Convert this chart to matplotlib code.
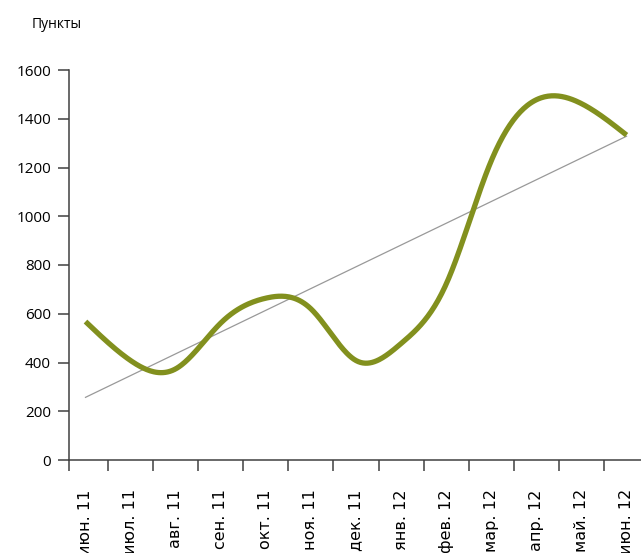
import numpy as np
import matplotlib
matplotlib.use("Agg")
import matplotlib.pyplot as plt

# monthly values
months = ["июн. 11", "июл. 11", "авг. 11", "сен. 11", "окт. 11", "ноя. 11", "дек. 11",
          "янв. 12", "фев. 12", "мар. 12", "апр. 12", "май. 12", "июн. 12"]
points = [568, 408, 374, 562, 664, 620, 408, 478, 722, 1228, 1478, 1462, 1333]
y_ticks = [0, 200, 400, 600, 800, 1000, 1200, 1400, 1600]


def smooth_line(x, y, n=40):
    """Natural cubic spline through the points."""
    x = np.asarray(x, float)
    y = np.asarray(y, float)
    m = len(x)
    h = np.diff(x)
    A = np.zeros((m, m))
    r = np.zeros(m)
    A[0, 0] = A[-1, -1] = 1
    for i in range(1, m - 1):
        A[i, i - 1] = h[i - 1]
        A[i, i] = 2 * (h[i - 1] + h[i])
        A[i, i + 1] = h[i]
        r[i] = 6 * ((y[i + 1] - y[i]) / h[i] - (y[i] - y[i - 1]) / h[i - 1])
    M = np.linalg.solve(A, r)
    xs, ys = [], []
    for i in range(m - 1):
        t = np.linspace(x[i], x[i + 1], n)
        a = (x[i + 1] - t) / h[i]
        b = (t - x[i]) / h[i]
        s = (a * y[i] + b * y[i + 1]
             + ((a ** 3 - a) * M[i] + (b ** 3 - b) * M[i + 1]) * h[i] ** 2 / 6)
        xs.append(t)
        ys.append(s)
    return np.concatenate(xs), np.concatenate(ys)


x = np.arange(len(points))
sx, sy = smooth_line(x, points)

# linear trend line
slope, intercept = np.polyfit(x, points, 1)
trend = slope * x + intercept

fig = plt.figure(figsize=(6.41, 5.53), dpi=100)
ax = fig.add_axes([69 / 641, 93 / 553, (641 - 69) / 641, 390 / 553])

ax.plot(x, trend, color="#999999", linewidth=0.9, zorder=2)
ax.plot(sx, sy, color="#82901e", linewidth=3.8, solid_capstyle="butt", zorder=3)

ax.set_xlim(-0.366, 12.32)
ax.set_ylim(0, 1600)

for side in ["top", "right"]:
    ax.spines[side].set_visible(False)
for side in ["left", "bottom"]:
    ax.spines[side].set_color("#404040")
    ax.spines[side].set_linewidth(1.1)

ax.set_yticks(y_ticks)
ax.set_yticklabels([str(v) for v in y_ticks], family="Open Sans", fontsize=11)
ax.tick_params(axis="y", direction="out", length=8, width=1.1, color="#404040", pad=5)

ax.set_xticks(x)
ax.set_xticklabels(months, rotation=90, family="DejaVu Sans", fontsize=11.5)
ax.tick_params(axis="x", which="major", length=0, pad=21)
ax.set_xticks(np.arange(-0.5, 12, 1.0)[1:].tolist() + [-0.366], minor=True)
ax.tick_params(axis="x", which="minor", direction="out", length=8, width=1.1, color="#404040")

fig.text(32 / 641, 1 - 28 / 553, "Пункты", family="Open Sans", fontsize=10, va="baseline")

fig.savefig("out.png", dpi=100)
